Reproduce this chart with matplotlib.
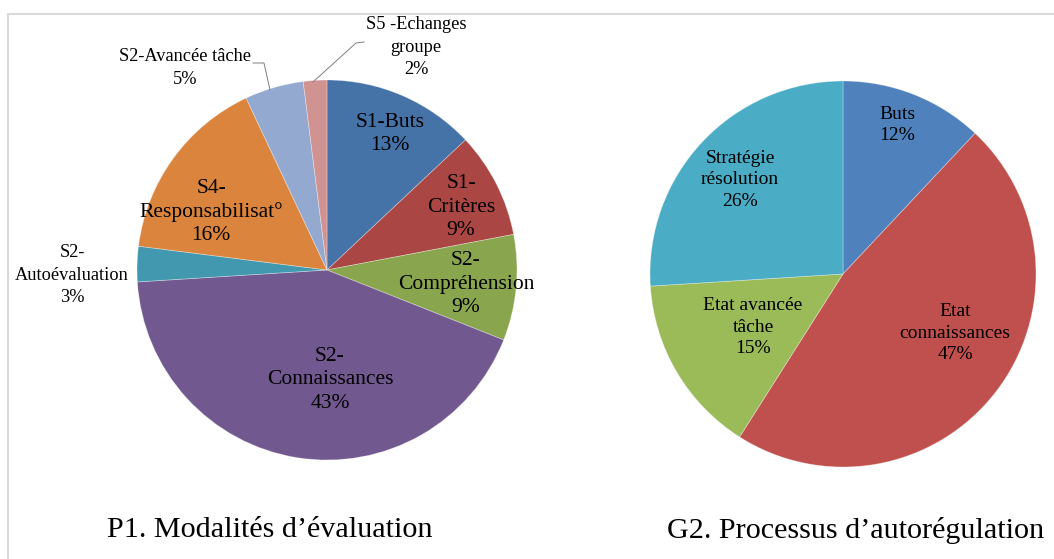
import matplotlib
matplotlib.use("Agg")
import matplotlib.pyplot as plt
from matplotlib.patches import Rectangle

plt.rcParams['font.family'] = ['Liberation Serif', 'DejaVu Serif']

# ---- data ----
p1_labels = ["S1-Buts", "S1-\nCritères", "S2-\nCompréhension", "S2-\nConnaissances",
             "S2-\nAutoévaluation", "S4-\nResponsabilisat°", "S2-Avancée tâche",
             "S5 -Echanges\ngroupe"]
p1_values = [13, 9, 9, 43, 3, 16, 5, 2]
p1_colors = ["#4572A7", "#AA4643", "#89A54E", "#71588F", "#4198AF", "#DB843D",
             "#93A9CF", "#D19392"]

g2_labels = ["Buts", "Etat\nconnaissances", "Etat avancée\ntâche", "Stratégie\nrésolution"]
g2_values = [12, 47, 15, 26]
g2_colors = ["#4F81BD", "#C0504D", "#9BBB59", "#4BACC6"]

title1 = "P1. Modalités d’évaluation"
title2 = "G2. Processus d’autorégulation"

W, H = 1054, 559
fig = plt.figure(figsize=(W / 100, H / 100), dpi=100)
ax = fig.add_axes([0, 0, 1, 1])

def Y(y):
    return H - y

# pies
ax.pie(p1_values, colors=p1_colors, startangle=90, counterclock=False,
       center=(327, Y(270)), radius=190, frame=True,
       wedgeprops=dict(edgecolor=(1, 1, 1, 0.35), linewidth=0.6))
ax.pie(g2_values, colors=g2_colors, startangle=90, counterclock=False,
       center=(843, Y(274)), radius=193, frame=True,
       wedgeprops=dict(edgecolor=(1, 1, 1, 0.35), linewidth=0.6))
ax.set_xlim(0, W)
ax.set_ylim(0, H)
ax.set_aspect('equal')
ax.axis('off')

# frame
ax.add_patch(Rectangle((8, -10), W + 20, Y(14) + 10, fill=False,
                       edgecolor="#D9D9D9", linewidth=1.5, zorder=0))

# label layout (pixel positions of label centres)
p1_pos = [(390, 134), (461, 207), (466, 284), (330, 380),
          (72, 275), (211, 212), (185, 68), (416, 47)]
p1_size = [15.5, 15.5, 15.5, 15.5, 13.2, 15.5, 13.2, 13.2]
p1_ls = [1.3, 1.3, 1.3, 1.3, 1.4, 1.3, 1.4, 1.4]
for lab, v, (x, y), s, ls in zip(p1_labels, p1_values, p1_pos, p1_size, p1_ls):
    ax.text(x, Y(y), f"{lab}\n{v}%", ha='center', va='center', fontsize=s,
            linespacing=ls, multialignment='center', color='black')

# leader lines
ax.plot([253, 264, 270], [Y(63), Y(63), Y(90)], color='#7F7F7F', lw=0.7)
ax.plot([364, 356, 313], [Y(42), Y(43), Y(82)], color='#7F7F7F', lw=0.7)

g2_pos = [(897, 125), (955, 333), (753, 327), (740, 180)]
for lab, v, (x, y) in zip(g2_labels, g2_values, g2_pos):
    ax.text(x, Y(y), f"{lab}\n{v}%", ha='center', va='center', fontsize=14,
            linespacing=1.35, multialignment='center', color='black')

ax.text(270, Y(530), title1, ha='center', va='center', fontsize=21.7)
ax.text(856, Y(531), title2, ha='center', va='center', fontsize=21.7)

fig.savefig("out.png", dpi=100)
